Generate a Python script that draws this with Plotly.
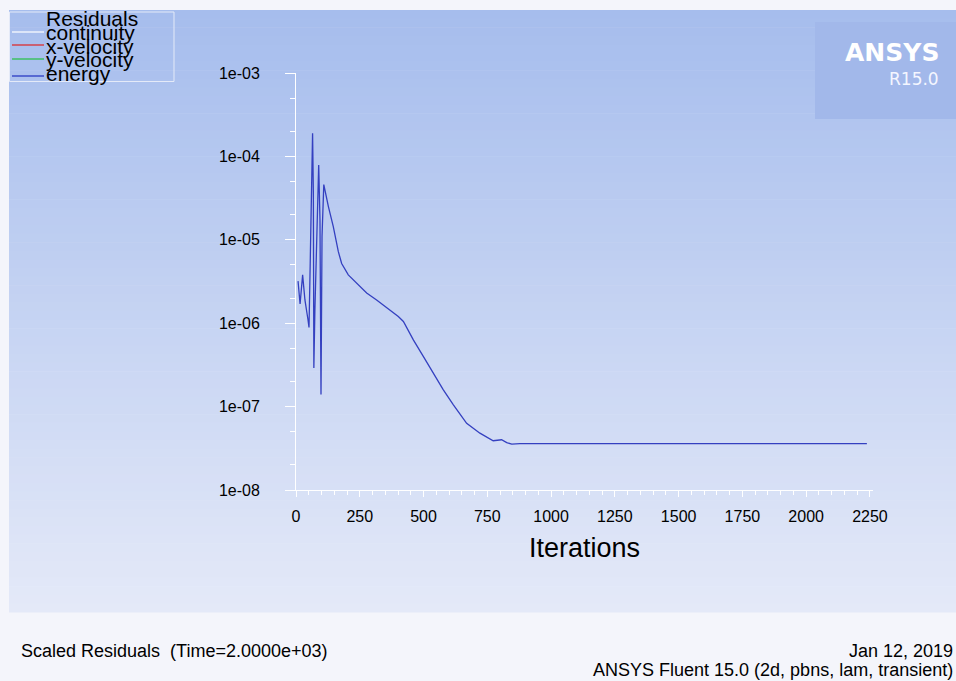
import plotly.graph_objects as go

# ---------------- data ----------------
iterations = [8, 16, 26, 35, 47, 51, 55, 59, 63, 65, 68, 70, 74, 85, 89, 94, 98, 102, 109,
              127, 146, 166, 179, 205, 238, 277, 316, 362, 401, 421, 460, 499, 538, 577,
              617, 669, 721, 773, 806, 826, 846, 878, 2238]
energy = [3.2e-6, 1.7e-6, 3.8e-6, 1.9e-6, 1.1e-6, 8.9e-7, 4.0e-6, 1.6e-5, 8.3e-5, 1.9e-4,
          3.7e-5, 2.9e-7, 1.4e-6, 3.2e-5, 7.9e-5, 1.7e-5, 1.4e-7, 1.1e-5, 4.6e-5,
          2.5e-5, 1.45e-5, 7.2e-6, 5.2e-6, 3.8e-6, 3.0e-6, 2.3e-6, 1.9e-6, 1.5e-6, 1.2e-6,
          1.05e-6, 6.3e-7, 4.0e-7, 2.5e-7, 1.6e-7, 1.05e-7, 6.3e-8, 4.8e-8, 3.9e-8, 4.0e-8,
          3.7e-8, 3.55e-8, 3.6e-8, 3.6e-8]

y_tickvals = [1e-8, 1e-7, 1e-6, 1e-5, 1e-4, 1e-3]
y_ticktext = ["1e-08", "1e-07", "1e-06", "1e-05", "1e-04", "1e-03"]
x_tickvals = [0, 250, 500, 750, 1000, 1250, 1500, 1750, 2000, 2250]

legend_names = ["continuity", "x-velocity", "y-velocity", "energy"]
legend_colors = ["#ffffff", "#e02020", "#20c040", "#2030c0"]

# ---------------- geometry helpers ----------------
W, H = 956, 681
PX0, PX1, PY0, PY1 = 296, 873, 73, 490  # plot area in pixels


def px(x):
    return (x - PX0) / (PX1 - PX0)


def py(y):
    return (PY1 - y) / (PY1 - PY0)


FONT = "Liberation Sans, Arial, sans-serif"

fig = go.Figure()
fig.add_trace(go.Scatter(x=iterations, y=energy, mode="lines",
                         line=dict(color="#3440c0", width=1.3), showlegend=False,
                         hoverinfo="skip"))

shapes = []
# gradient background
top_c = (166, 189, 237)
bot_c = (228, 233, 248)
g_top, g_bot = 10, 612
n = 70
for i in range(n):
    t = i / (n - 1)
    c = tuple(round(top_c[k] + (bot_c[k] - top_c[k]) * t) for k in range(3))
    y0 = g_top + (g_bot - g_top) * i / n
    y1 = g_top + (g_bot - g_top) * (i + 1) / n + 0.6
    shapes.append(dict(type="rect", xref="paper", yref="paper", layer="below",
                       x0=px(9), x1=px(W + 2), y0=py(y1), y1=py(y0),
                       fillcolor="rgb(%d,%d,%d)" % c, line=dict(width=0)))
# ANSYS box
shapes.append(dict(type="rect", xref="paper", yref="paper", layer="below",
                   x0=px(815), x1=px(W + 2), y0=py(119), y1=py(22),
                   fillcolor="rgb(162,184,234)", line=dict(width=0)))
# legend box
shapes.append(dict(type="rect", xref="paper", yref="paper", layer="above",
                   x0=px(9.5), x1=px(174), y0=py(81.5), y1=py(12),
                   fillcolor="rgba(0,0,0,0)", line=dict(color="#e4eaf8", width=1)))
legend_line_y = [32, 45, 59, 76]
for name, col, ly in zip(legend_names, legend_colors, legend_line_y):
    shapes.append(dict(type="line", xref="paper", yref="paper", layer="above",
                       x0=px(12), x1=px(44), y0=py(ly), y1=py(ly),
                       line=dict(color=col, width=1.2)))

annotations = []
legend_text_y = [19, 33, 47, 60, 73]
for txt, ty in zip(["Residuals"] + legend_names, legend_text_y):
    annotations.append(dict(text=txt, xref="paper", yref="paper", x=px(44), y=py(ty),
                            xanchor="left", yanchor="middle", showarrow=False,
                            font=dict(family=FONT, size=21, color="black")))
annotations.append(dict(text="<b>ANSYS</b>", xref="paper", yref="paper", x=px(941), y=py(52),
                        xanchor="right", yanchor="middle", showarrow=False,
                        font=dict(family="DejaVu Sans, sans-serif", size=25, color="white")))
annotations.append(dict(text="R15.0", xref="paper", yref="paper", x=px(941), y=py(79),
                        xanchor="right", yanchor="middle", showarrow=False,
                        font=dict(family="DejaVu Sans, sans-serif", size=17, color="#f4f6ff")))
annotations.append(dict(text="Iterations", xref="paper", yref="paper", x=px(584), y=py(548),
                        xanchor="center", yanchor="middle", showarrow=False,
                        font=dict(family=FONT, size=27, color="black")))
annotations.append(dict(text="Scaled Residuals  (Time=2.0000e+03)", xref="paper", yref="paper",
                        x=px(19), y=py(651), xanchor="left", yanchor="middle", showarrow=False,
                        font=dict(family=FONT, size=18, color="black")))
annotations.append(dict(text="Jan 12, 2019", xref="paper", yref="paper",
                        x=px(955), y=py(651), xanchor="right", yanchor="middle", showarrow=False,
                        font=dict(family=FONT, size=18, color="black")))
annotations.append(dict(text="ANSYS Fluent 15.0 (2d, pbns, lam, transient)", xref="paper",
                        yref="paper", x=px(955), y=py(670), xanchor="right", yanchor="middle",
                        showarrow=False, font=dict(family=FONT, size=18, color="black")))

fig.update_layout(
    width=W, height=H, autosize=False,
    margin=dict(l=PX0, r=W - PX1, t=PY0, b=H - PY1, pad=0),
    paper_bgcolor="#f4f5fb", plot_bgcolor="rgba(0,0,0,0)",
    shapes=shapes, annotations=annotations, showlegend=False,
    font=dict(family=FONT, size=16, color="black"),
)
fig.update_xaxes(range=[0, 2262], tickvals=x_tickvals, showgrid=False, zeroline=False,
                 showline=True, linecolor="white", linewidth=1,
                 ticks="outside", ticklen=6, tickcolor="white",
                 ticklabelstandoff=6, tickfont=dict(size=16),
                 minor=dict(ticks="outside", ticklen=4, tickcolor="white", dtick=50,
                            showgrid=False))
fig.update_yaxes(type="log", range=[-8, -3], tickvals=y_tickvals, ticktext=y_ticktext,
                 showgrid=False, zeroline=False, showline=True, linecolor="white",
                 linewidth=1, ticks="outside", ticklen=10, tickcolor="white",
                 ticklabelstandoff=22, tickfont=dict(size=16),
                 minor=dict(ticks="outside", ticklen=5, tickcolor="white", showgrid=False))

fig.write_html("out.html")
